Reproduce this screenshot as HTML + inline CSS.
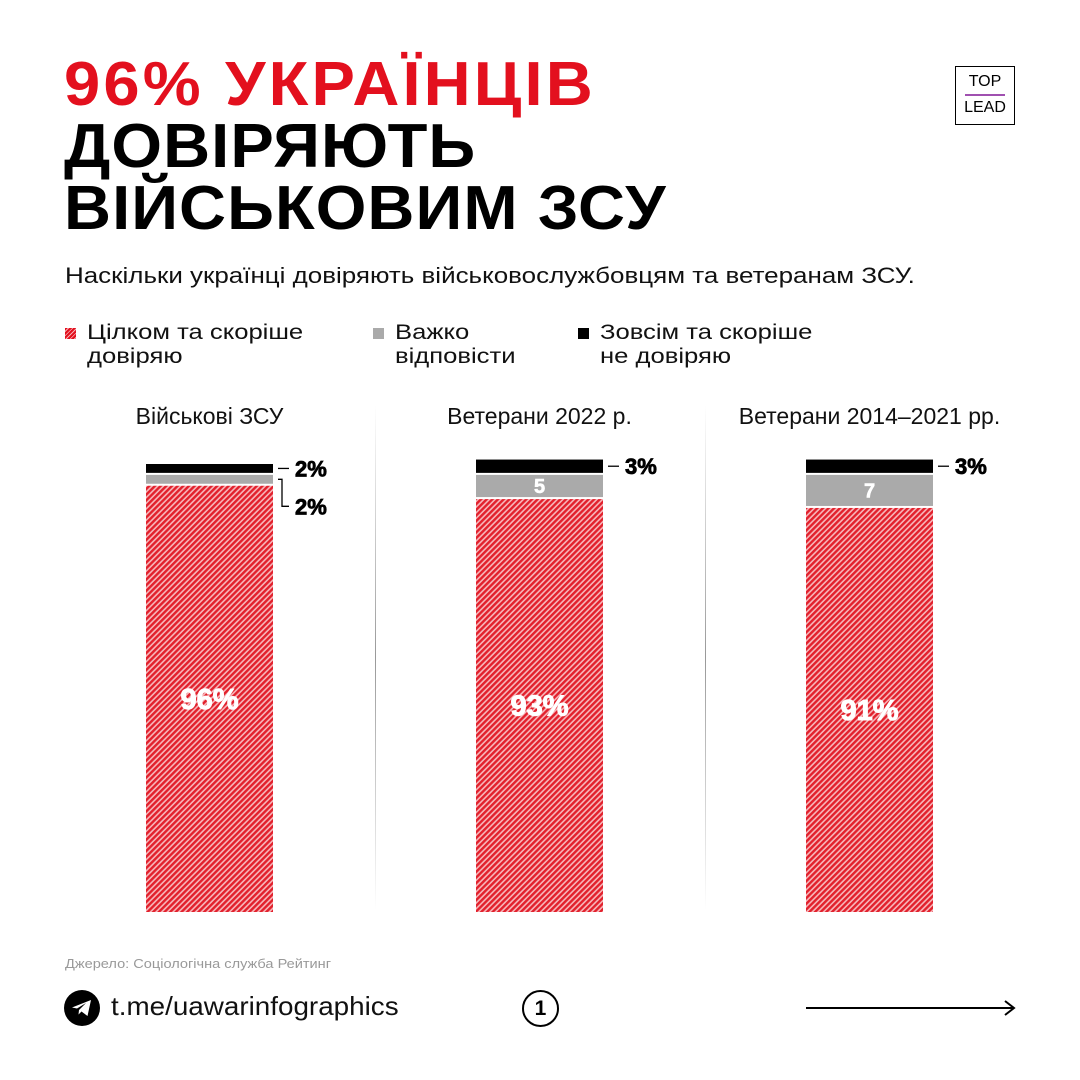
<!DOCTYPE html>
<html><head><meta charset="utf-8"><style>
body{margin:0;width:1080px;height:1080px;background:#fff;font-family:"Liberation Sans","DejaVu Sans",sans-serif;position:relative;overflow:hidden}
.t{position:absolute;margin:0;transform-origin:left top}
h1{position:absolute;left:64px;top:54px;margin:0;font:900 62px/62px "Liberation Sans",sans-serif;letter-spacing:1px;transform:scaleX(1.05);transform-origin:left}
</style></head><body>
<h1><span style="color:#e3101e;letter-spacing:3px">96% УКРАЇНЦІВ</span><br>ДОВІРЯЮТЬ<br>ВІЙСЬКОВИМ ЗСУ</h1>
<div style="position:absolute;left:955px;top:66px;width:58px;height:57px;border:1.5px solid #000;text-align:center;font-size:16px;line-height:20px">
<div style="margin-top:5px">TOP</div><div style="width:40px;height:1.5px;background:#a050b0;margin:2px auto"></div><div>LEAD</div></div>
<p class="t" style="left:65px;top:263px;font-size:22px;color:#111;white-space:nowrap;transform:scaleX(1.18)">Наскільки українці довіряють військовослужбовцям та ветеранам ЗСУ.</p>
<div style="position:absolute;left:65px;top:321px;font-size:21px;line-height:24px;color:#111">
<div style="position:absolute;left:0;width:260px"><span style="position:absolute;left:0;top:7px;width:11px;height:11px;background:repeating-linear-gradient(135deg,#e3101e 0 2px,#f6b0b5 2px 3px)"></span><span class="t" style="left:22px;width:260px;white-space:nowrap;transform:scaleX(1.22)">Цілком та скоріше<br>довіряю</span></div>
<div style="position:absolute;left:308px;width:160px"><span style="position:absolute;left:0;top:7px;width:11px;height:11px;background:#aaa"></span><span class="t" style="left:22px;width:140px;white-space:nowrap;transform:scaleX(1.22)">Важко<br>відповісти</span></div>
<div style="position:absolute;left:513px;width:240px"><span style="position:absolute;left:0;top:7px;width:11px;height:11px;background:#000"></span><span class="t" style="left:22px;width:230px;white-space:nowrap;transform:scaleX(1.22)">Зовсім та скоріше<br>не довіряю</span></div>
</div>
<svg id="chart" width="1080" height="1080" style="position:absolute;left:0;top:0">
<defs><pattern id="hatch" width="4" height="4" patternUnits="userSpaceOnUse" patternTransform="rotate(45)"><rect width="4" height="4" fill="#f7b7bb"/><rect width="2.4" height="4" fill="#e2202c"/></pattern>
<linearGradient id="dv" x1="0" y1="0" x2="0" y2="1"><stop offset="0" stop-color="#fff"/><stop offset=".5" stop-color="#999"/><stop offset="1" stop-color="#fff"/></linearGradient></defs>
<rect x="375" y="405" width="1" height="505" fill="url(#dv)"/><rect x="705" y="405" width="1" height="505" fill="url(#dv)"/>
</svg>
<p class="t" style="left:65px;top:956px;font-size:13px;color:#999;white-space:nowrap;transform:scaleX(1.12)">Джерело: Соціологічна служба Рейтинг</p>
<svg width="36" height="36" style="position:absolute;left:64px;top:990px"><circle cx="18" cy="18" r="18" fill="#000"/><path d="M8 17.5l19-7.5-3.5 16-6-4.5-3 3 .5-4.5 7-7-9 5.5z" fill="#fff"/></svg>
<p class="t" style="left:111px;top:991px;font-size:26px;color:#111;white-space:nowrap;transform:scaleX(1.07)">t.me/uawarinfographics</p>
<div style="position:absolute;left:522px;top:990px;width:33px;height:33px;border:2px solid #000;border-radius:50%;text-align:center;font:900 21px/33px 'Liberation Sans',sans-serif">1</div>
<svg width="212" height="20" style="position:absolute;left:806px;top:998px"><line x1="0" y1="10" x2="208" y2="10" stroke="#000" stroke-width="2"/><path d="M199 3l9 7-9 7" fill="none" stroke="#000" stroke-width="2"/></svg>
<script>
const categories=["Військові ЗСУ","Ветерани 2022 р.","Ветерани 2014–2021 рр."];
const trust=[96,93,91];
const hard=[2,5,7];
const distrust=[2,3,3];
const trustLabels=["96%","93%","91%"];
const hardLabels=["2%","5","7"];
const distrustLabels=["2%","3%","3%"];
const NS="http://www.w3.org/2000/svg";
const svg=document.getElementById('chart');
const base=912, pxPer=4.44, gap=2, barW=127;
const xOf=i=>146+i*330;
const h=v=>v*pxPer;
function mk(tag,at){const e=document.createElementNS(NS,tag);for(const k in at)e.setAttribute(k,at[k]);svg.appendChild(e);return e;}
categories.forEach((c,i)=>{
 const x=xOf(i);
 const t=mk('text',{x:x+barW/2,y:424,'text-anchor':'middle','font-size':23,fill:'#111'});t.textContent=c;
 
 
 const ht=h(trust[i]);const r=mk('rect',{x:x,y:base-ht,width:barW,height:ht,fill:'url(#hatch)'});
 
 
 const tl=mk('text',{x:x+barW/2,y:base-ht/2+10,'text-anchor':'middle','font-size':29,'font-weight':900,fill:'#fff',stroke:'#fff','stroke-width':1});tl.textContent=trustLabels[i];
 
 
 const hh=h(hard[i]);const gy=base-ht-gap-hh;const g=mk('rect',{x:x,y:gy,width:barW,height:hh,fill:'#aaa'});
 
 
 const dh=h(distrust[i]);const dy=gy-gap-dh;const d=mk('rect',{x:x,y:dy,width:barW,height:dh,fill:'#000'});
 
 
 const dl=mk('text',{x:x+barW+22,y:dy+dh/2+8,'font-size':22,'font-weight':900,fill:'#000',stroke:'#000','stroke-width':0.8});dl.textContent=distrustLabels[i];
 
 
 mk('line',{x1:x+barW+5,x2:x+barW+16,y1:dy+dh/2,y2:dy+dh/2,stroke:'#000','stroke-width':1.3});
 if(hh>=14){const hl=mk('text',{x:x+barW/2,y:gy+hh/2+7,'text-anchor':'middle','font-size':20,'font-weight':900,fill:'#fff',stroke:'#fff','stroke-width':0.6});hl.textContent=hardLabels[i];
  
  }
 else{const my=gy+hh/2;mk('path',{d:`M${x+barW+5} ${my}H${x+barW+9}V${my+27}H${x+barW+16}`,fill:'none',stroke:'#000','stroke-width':1.3});
  const hl=mk('text',{x:x+barW+22,y:my+35,'font-size':22,'font-weight':900,fill:'#000',stroke:'#000','stroke-width':0.8});hl.textContent=hardLabels[i];
  
  }
});
</script>
</body></html>
